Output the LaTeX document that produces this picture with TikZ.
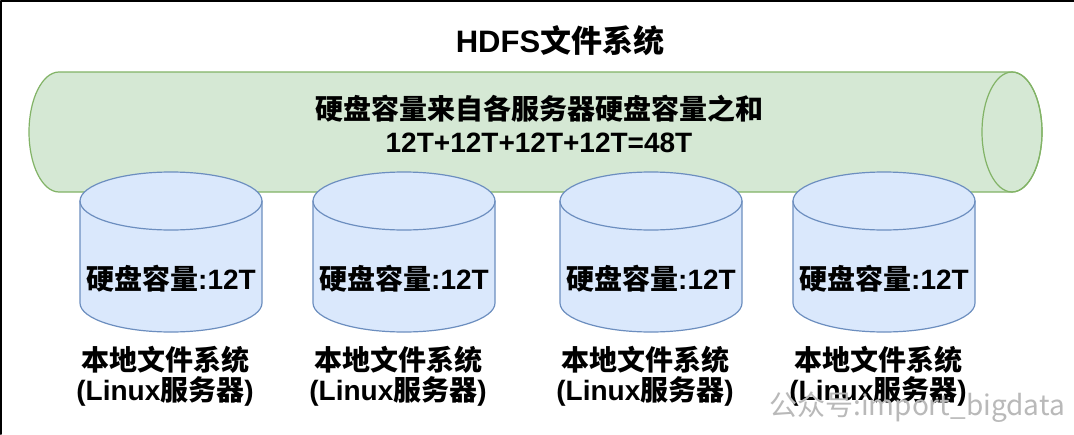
\documentclass[tikz,border=0pt]{standalone}
\usepackage{fontspec}
\setmainfont{Liberation Sans}
\newfontfamily\cjk{Noto Sans CJK SC}
\newcommand{\cn}[1]{{\cjk #1}}
\definecolor{tubefill}{HTML}{D5E8D4}
\definecolor{tubeline}{HTML}{82B366}
\definecolor{diskfill}{HTML}{DAE8FC}
\definecolor{diskline}{HTML}{6C8EBF}
\tikzset{
  tube/.style={fill=tubefill, draw=tubeline, line width=1.2pt},
  disk/.style={fill=diskfill, draw=diskline, line width=1.2pt},
  headtext/.style={font=\bfseries\fontsize{31}{36}\selectfont},
  sumtext/.style={align=center, font=\bfseries\fontsize{28}{33}\selectfont},
  disktext/.style={font=\bfseries\fontsize{28}{32}\selectfont},
  fslabel/.style={align=center, font=\bfseries\fontsize{28}{30}\selectfont}
}
\begin{document}
\begin{tikzpicture}[x=1pt, y=1pt, line join=round, line cap=round]
        \def\rx{91} \def\ry{29}
        \def\tx{30} \def\ty{60}
        \useasboundingbox (0,0) rectangle (1074,-434);
        \fill[white] (0,0) rectangle (1074,-434);
        \draw[line width=2pt] (1,-434)--(1,-1)--(1074,-1);
        % HDFS
        \filldraw[tube] (59,-72)--(1012,-72) arc[start angle=90, end angle=-90, x radius=\tx pt, y radius=\ty pt]
        --(59,-192) arc[start angle=270, end angle=90, x radius=\tx pt, y radius=\ty pt]--cycle;
        \draw[tube, fill=none] (1012,-132) ellipse[x radius=\tx pt, y radius=\ty pt];
        \node[headtext] (hdfs) at (560,-41) {HDFS\cn{文件系统}};
        \node[sumtext] (total) at (539,-124) {\cn{硬盘容量来自各服务器硬盘容量之和}\\12T+12T+12T+12T=48T};
        % servers
        \foreach \cx [count=\i] in {171,404,651,884}{
            \filldraw[disk] (\cx-\rx,-201)--(\cx-\rx,-303) arc[start angle=180, end angle=360, x radius=\rx pt, y radius=\ry pt]
            --(\cx+\rx,-201) arc[start angle=0, end angle=180, x radius=\rx pt, y radius=\ry pt]--cycle;
            \draw[disk, fill=none] (\cx-\rx,-201) arc[start angle=180, end angle=360, x radius=\rx pt, y radius=\ry pt];
            \node[disktext] (cap\i) at (\cx,-279) {\cn{硬盘容量}:12T};
            \node[fslabel] (fs\i) at (\cx-6,-376) {\cn{本地文件系统}\\(Linux\cn{服务器})};
        }
        \node[gray!55, font=\fontsize{28}{32}\selectfont] (mark) at (917,-407) {\cn{公众号:import\_bigdata}};
\end{tikzpicture}
\end{document}
